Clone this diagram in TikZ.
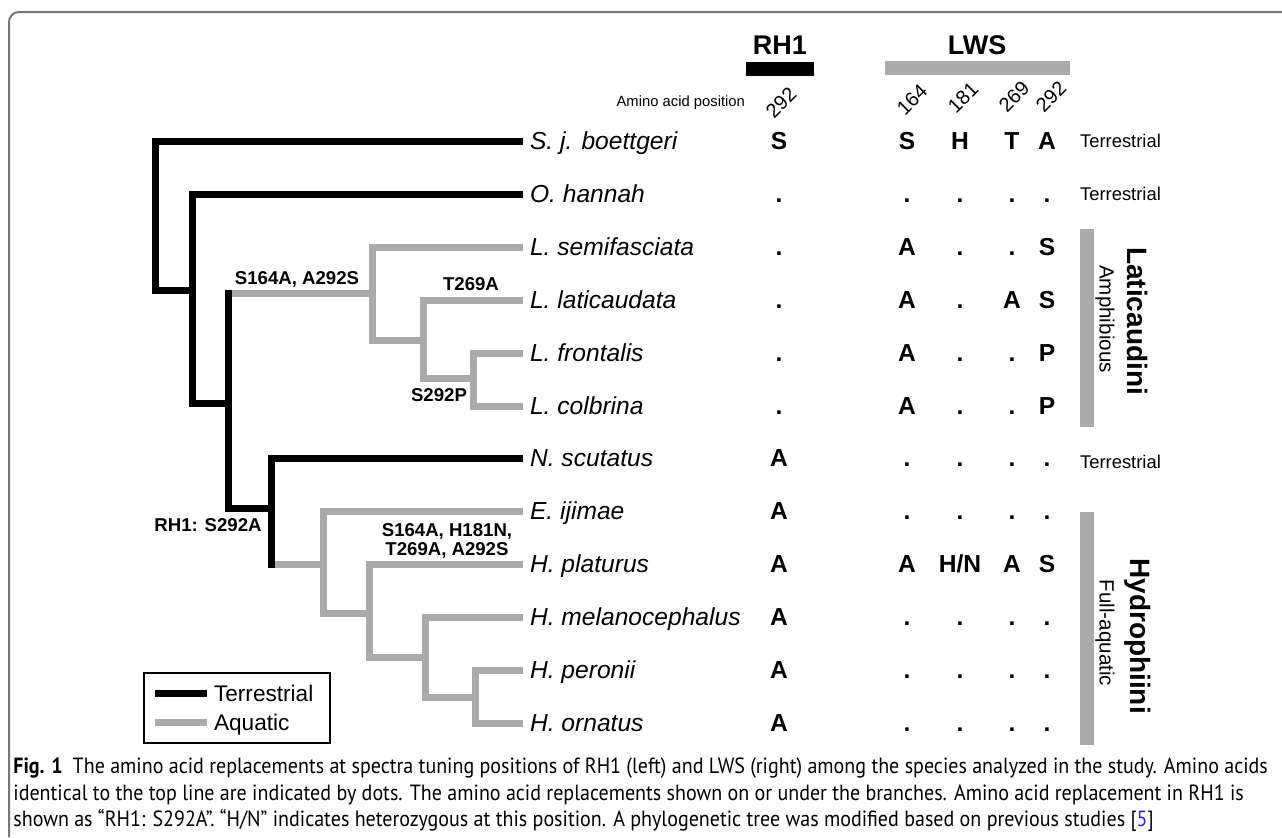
\documentclass[tikz,border=0pt]{standalone}
\usepackage{fontspec}
\setmainfont{Liberation Sans}
\newfontfamily\capfont[FakeStretch=0.91]{PT Sans}
\usepackage{xcolor}
\usepackage{tikz}

\definecolor{aquagray}{RGB}{170,170,170}
\definecolor{framegray}{RGB}{118,118,118}
\definecolor{citeblue}{RGB}{40,40,230}

\begin{document}
\begin{tikzpicture}[x=0.5pt, y=-0.5pt,
    terr/.style={line width=3.5pt, draw=black},
    aqua/.style={line width=3.5pt, draw=aquagray},
    species/.style={anchor=west, font=\fontsize{12.3}{14}\selectfont\itshape, text height=8.8pt, text depth=0pt},
    aa/.style={font=\fontsize{12.3}{14}\selectfont\bfseries, text height=8.8pt, text depth=0pt},
    aanum/.style={font=\fontsize{10}{12}\selectfont, rotate=45, inner sep=1pt},
    mut/.style={font=\fontsize{9.3}{9.6}\selectfont\bfseries, align=center},
    habrow/.style={anchor=west, font=\fontsize{9.2}{11}\selectfont, text height=6.6pt, text depth=0pt},
    clade/.style={rotate=-90, font=\fontsize{14}{16}\selectfont\bfseries},
    habclade/.style={rotate=-90, font=\fontsize{10.3}{12}\selectfont},
    legtext/.style={anchor=west, font=\fontsize{11.3}{13}\selectfont, text height=8pt, text depth=0pt},
    captext/.style={anchor=base west, inner sep=0pt, font=\capfont\fontsize{11}{13}\selectfont}]
    \useasboundingbox (0,0) rectangle (1282,837);

    % Frame
    \draw[framegray, line width=1pt, rounded corners=5pt] (1282,12) -- (9,12) -- (9,837);

    % Gene headers
    \node[font=\fontsize{13.5}{15}\selectfont\bfseries] (rhead) at (780,45) {RH1};
    \node[font=\fontsize{13.5}{15}\selectfont\bfseries] (lhead) at (977,45) {LWS};
    \fill[black] (746,62) rectangle (814,76);
    \fill[aquagray] (885,61) rectangle (1070,75);
    \node[anchor=east, font=\fontsize{7.4}{9}\selectfont] (aapos) at (752,103) {Amino acid position};
    \node[aanum] (n292r) at (781,103) {292};
    \node[aanum] (n164) at (912,100) {164};
    \node[aanum] (n181) at (963,98) {181};
    \node[aanum] (n269) at (1014,97) {269};
    \node[aanum] (n292l) at (1051,97) {292};

    % Species
    \node[species] (sjb) at (523,141) {S. j. boettgeri};
    \node[species] (ohan) at (523,194) {O. hannah};
    \node[species] (lsem) at (523,247) {L. semifasciata};
    \node[species] (llat) at (523,300) {L. laticaudata};
    \node[species] (lfro) at (523,353) {L. frontalis};
    \node[species] (lcol) at (523,406) {L. colbrina};
    \node[species] (nscu) at (523,458) {N. scutatus};
    \node[species] (eiji) at (523,511) {E. ijimae};
    \node[species] (hpla) at (523,564) {H. platurus};
    \node[species] (hmel) at (523,617) {H. melanocephalus};
    \node[species] (hper) at (523,670) {H. peronii};
    \node[species] (horn) at (523,723) {H. ornatus};

    % Tree nodes
    \coordinate (root) at (155,290);
    \coordinate (nd2) at (192,290);
    \coordinate (nd3) at (228,403);
    \coordinate (lat) at (372,293);
    \coordinate (lat2) at (423,340);
    \coordinate (lat3) at (473,378);
    \coordinate (nd4) at (271,508);
    \coordinate (hyd) at (323,564);
    \coordinate (hyd2) at (369,613);
    \coordinate (hyd3) at (425,657);
    \coordinate (hyd4) at (475,697);

    % Aquatic branches
    \draw[aqua] (nd3 |- lat) -- (lat);
    \draw[aqua] (lsem.west) -| (lat) |- (lat2);
    \draw[aqua] (llat.west) -| (lat2) |- (lat3);
    \draw[aqua] (lfro.west) -| (lat3) |- (lcol.west);
    \draw[aqua] (nd4 |- hyd) -- (hyd);
    \draw[aqua] (eiji.west) -| (hyd) |- (hyd2);
    \draw[aqua] (hpla.west) -| (hyd2) |- (hyd3);
    \draw[aqua] (hmel.west) -| (hyd3) |- (hyd4);
    \draw[aqua] (hper.west) -| (hyd4) |- (horn.west);

    % Terrestrial branches
    \draw[terr] (sjb.west) -| (root) -- (nd2);
    \draw[terr] (ohan.west) -| (nd2) |- (nd3);
    \draw[terr, line cap=rect] (nd3 |- lat) |- (nd4);
    \draw[terr] (nscu.west) -| (nd4);
    \draw[terr, line cap=rect] (nd4) -- (nd4 |- hyd);

    % Replacements on branches
    \node[mut] (mutlat) at (297,279) {S164A, A292S};
    \node[mut] (mutllat) at (471,284) {T269A};
    \node[mut] (mutlfro) at (439,395) {S292P};
    \node[mut] (mutrh) at (208,525) {RH1: S292A};
    \node[mut] (muthpla) at (447,541) {S164A, H181N,\\T269A, A292S};

    % Amino acids
    \foreach \y/\rh/\ca/\cb/\cc/\cd [count=\i] in {141/S/S/H/T/A,
        194/{.}/{.}/{.}/{.}/{.}, 247/{.}/A/{.}/{.}/S, 300/{.}/A/{.}/A/S,
        353/{.}/A/{.}/{.}/P, 406/{.}/A/{.}/{.}/P, 458/A/{.}/{.}/{.}/{.},
        511/A/{.}/{.}/{.}/{.}, 564/A/A/{H/N}/A/S, 617/A/{.}/{.}/{.}/{.},
        670/A/{.}/{.}/{.}/{.}, 723/A/{.}/{.}/{.}/{.}}
    {
        \node[aa] (rh\i) at (779,\y) {\rh};
        \node[aa] (l164-\i) at (907,\y) {\ca};
        \node[aa] (l181-\i) at (960,\y) {\cb};
        \node[aa] (l269-\i) at (1012,\y) {\cc};
        \node[aa] (l292-\i) at (1047,\y) {\cd};
    }

    % Habitats
    \node[habrow] (hab1) at (1073,141) {Terrestrial};
    \node[habrow] (hab2) at (1073,194) {Terrestrial};
    \node[habrow] (hab3) at (1073,462) {Terrestrial};
    \fill[aquagray] (1080,229) rectangle (1094,427);
    \fill[aquagray] (1080,512) rectangle (1094,745);
    \node[clade] (lati) at (1138,321) {Laticaudini};
    \node[habclade] (amph) at (1105,319) {Amphibious};
    \node[clade] (hydr) at (1138,636) {Hydrophiini};
    \node[habclade] (fullaq) at (1105,633) {Full-aquatic};

    % Legend
    \node[draw, line width=1pt, minimum width=93pt, minimum height=35pt] (legend) at (237,708) {};
    \node[legtext] (legterr) at (207,693) {Terrestrial};
    \node[legtext] (legaqua) at (207,722) {Aquatic};
    \coordinate (legterrs) at (155,693);
    \coordinate (legaquas) at (155,722);
    \draw[terr] (legterrs) -- (legterr.west);
    \draw[aqua] (legaquas) -- (legaqua.west);

    % Caption
    \node[captext] (cap1) at (13,773) {\textbf{Fig. 1}\hspace{5pt}The amino acid replacements at spectra tuning positions of RH1 (left) and LWS (right) among the species analyzed in the study. Amino acids};
    \node[captext] (cap2) at (13,800) {identical to the top line are indicated by dots. The amino acid replacements shown on or under the branches. Amino acid replacement in RH1 is};
    \node[captext] (cap3) at (13,826) {shown as “RH1: S292A”. “H/N” indicates heterozygous at this position. A phylogenetic tree was modified based on previous studies [\textcolor{citeblue}{5}]};
\end{tikzpicture}
\end{document}
